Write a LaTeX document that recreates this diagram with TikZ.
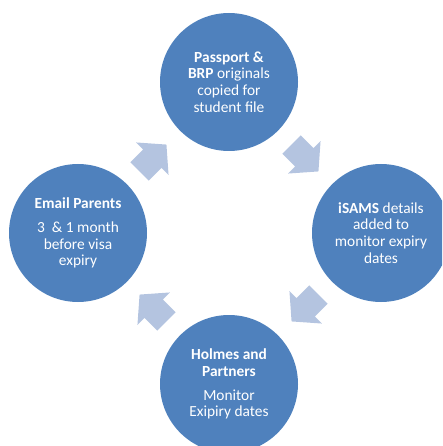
\documentclass[tikz,border=0pt]{standalone}
\usepackage{fontspec}
\setmainfont{Carlito}
\definecolor{circblue}{RGB}{79,129,189}
\definecolor{arrblue}{RGB}{180,196,224}
\begin{document}
\begin{tikzpicture}[x=1pt,y=-1pt,
  stage/.style={circle, fill=circblue, minimum size=138pt, inner sep=0pt,
    text=white, align=center, font=\fontsize{15.4pt}{16.7pt}\selectfont},
  blockarrow/.style={fill=arrblue, draw=none}]
\useasboundingbox (0,0) rectangle (442,446);
\clip (0,0) rectangle (442,446);
\node[stage] (top) at (229,82) {\textbf{Passport \&}\\\textbf{BRP} originals\\copied for\\student file};
\node[stage] (right) at (381,233) {\textbf{iSAMS} details\\added to\\monitor expiry\\dates};
\node[stage] (bottom) at (229,384) {\textbf{Holmes and}\\\textbf{Partners}\\[7pt]Monitor\\Exipiry dates};
\node[stage] (left) at (78,233) {\textbf{Email Parents}\\[7pt]3~~\& 1 month\\before visa\\expiry};
\foreach \cx/\cy/\ang in {153/158/45, 305/158/-45, 305/308/-135, 153/308/135}{
  \fill[blockarrow, shift={(\cx,\cy)}, rotate=\ang]
    (19,0) -- (-1,23) -- (-1,13) -- (-19,13) -- (-19,-13) -- (-1,-13) -- (-1,-23) -- cycle;
}
\end{tikzpicture}
\end{document}
